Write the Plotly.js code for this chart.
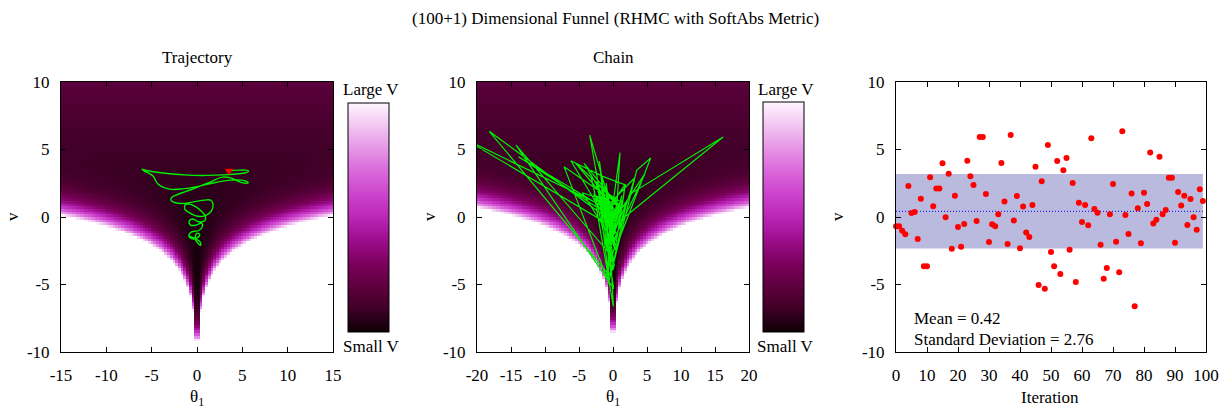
<!DOCTYPE html>
<html>
<head>
<meta charset="utf-8">
<script src="https://cdn.plot.ly/plotly-3.0.1.min.js"></script>
<style>html,body{margin:0;padding:0;background:#fff;}#plot{width:1229px;height:410px;}</style>
</head>
<body>
<div id="plot"></div>
<script>
// ---------------- data ----------------
const mainTitle = "(100+1) Dimensional Funnel (RHMC with SoftAbs Metric)";
const panelTitles = ["Trajectory", "Chain"];
const colorbarLabels = ["Large V", "Small V"];

const yTickVals = [-10, -5, 0, 5, 10];
const yTickText = ["-10", "-5", "0", "5", "10"];
const x1TickVals = [-15, -10, -5, 0, 5, 10, 15];
const x1TickText = ["-15", "-10", "-5", "0", "5", "10", "15"];
const x2TickVals = [-20, -15, -10, -5, 0, 5, 10, 15, 20];
const x2TickText = ["-20", "-15", "-10", "-5", "0", "5", "10", "15", "20"];
const x3TickVals = [0, 10, 20, 30, 40, 50, 60, 70, 80, 90, 100];

// Trajectory (theta1, v)
const trajTheta = [3.53,4.5,5.3,5.68,5.5,4.6,3.0,1.0,-1.0,-3.0,-4.8,-5.8,-6.05,-5.8,-5.2,-4.8,-4.6,-4.3,-3.7,-2.8,-1.6,0.0,1.5,3.0,4.4,5.3,5.65,5.4,4.6,3.8,2.8,1.5,0.0,-1.2,-2.2,-2.7,-2.9,-2.6,-1.8,-0.5,0.8,1.5,1.75,1.7,1.3,0.6,-0.2,-0.9,-1.35,-1.3,-0.8,0.0,0.6,0.95,0.8,0.2,-0.5,-0.85,-0.7,-0.1,0.5,0.6,0.2,-0.6,-0.9,-0.6,0.0,0.3,0.0,-0.2,0.1,0.4,0.35,-0.2,-0.85];
const trajV     = [3.43,3.47,3.47,3.4,3.3,3.2,3.12,3.08,3.1,3.2,3.35,3.48,3.55,3.4,3.2,3.0,2.75,2.45,2.2,2.05,2.08,2.25,2.48,2.68,2.75,2.68,2.55,2.5,2.62,2.88,2.95,2.6,2.2,1.9,1.65,1.5,1.3,1.1,1.0,1.1,1.25,1.25,1.0,0.6,0.25,0.05,0.1,0.35,0.6,0.9,0.95,0.7,0.35,0.0,-0.3,-0.35,-0.15,-0.3,-0.6,-0.6,-0.45,-0.7,-1.0,-1.1,-1.35,-1.6,-1.55,-1.3,-1.2,-1.6,-1.95,-2.1,-1.85,-1.6,-1.4];
const trajStart = [3.53, 3.43];

// Chain samples: v per iteration (right panel), theta1 per iteration (middle panel)
const chainV = [-0.69,-0.69,-1.01,-1.28,2.30,0.30,0.37,-1.63,1.36,-3.65,-3.65,2.94,0.79,2.12,2.12,3.98,-0.02,3.21,-2.35,1.58,
  -0.74,-2.20,-0.52,4.17,3.01,2.37,-0.30,5.93,5.93,1.70,-1.85,-0.54,-0.69,0.20,4.00,1.14,-2.00,6.07,-0.25,1.56,
  -2.32,0.77,-1.14,-1.48,0.89,3.73,-5.04,2.64,-5.31,5.33,-2.59,-3.65,4.15,-4.22,3.46,4.37,-2.42,2.52,-4.81,1.06,
  -0.37,0.89,-0.62,5.83,0.59,0.32,-2.05,-4.57,-3.78,0.20,2.44,-1.83,-4.10,6.35,0.15,-1.26,1.75,-6.62,0.64,-1.95,
  1.80,0.96,4.77,-0.49,-0.20,4.47,0.20,0.52,2.91,2.91,-1.90,1.85,0.86,1.58,-0.59,1.33,-0.02,-0.94,2.05,1.19];
const chainTheta = [0.3,0.3,-0.4,0.2,-2.5,0.6,-0.8,0.1,-1.5,-0.3,-0.3,-3.2,0.9,-1.2,-1.2,-4.25,0.4,4.7,-0.5,1.3,
  -0.2,0.3,-0.6,-6.2,-1.5,1.8,1.0,16.2,16.2,2.5,-0.4,0.5,-0.3,0.8,-5.5,0.6,-0.6,-3.43,0.3,-1.7,
  0.2,-0.9,0.4,-0.2,1.0,-7.2,-0.5,-2.3,0.1,-14.26,-0.7,0.2,-2.0,-0.3,3.48,5.54,0.3,-1.0,-0.6,2.0,
  -0.5,0.8,-0.4,-22,-0.6,1.1,-0.4,-1.0,0.1,-1.2,1.8,0.5,-0.9,-18.2,-1.5,0.3,-2.8,0.05,-0.7,0.2,
  -4.5,0.6,1.03,-0.4,0.5,-13.9,0.3,-1.4,3.2,3.2,0.2,-1.0,0.7,-2.6,0.3,1.5,-0.5,0.2,-1.7,0.9];
const chainMean = 0.42;
const chainStd = 2.76;
const statsText = ["Mean = 0.42", "Standard Deviation = 2.76"];

// ---------------- funnel potential surface ----------------
// V(theta1, v) = theta1^2 / (2 e^v) + v + v^2/18, shown up to a cut-off
const V_MIN = -4.5, V_MAX = 100;
function potential(th, v) { return th * th / (2 * Math.exp(v)) + v + v * v / 18; }
function surface(xmin, xmax, n, ymin, ymax, m) {
  const xs = [], ys = [], z = [];
  for (let i = 0; i < n; i++) xs.push(xmin + (xmax - xmin) * (i + 0.5) / n);
  for (let j = 0; j < m; j++) ys.push(ymin + (ymax - ymin) * (j + 0.5) / m);
  for (let j = 0; j < m; j++) {
    const row = [];
    for (let i = 0; i < n; i++) {
      const val = potential(xs[i], ys[j]);
      row.push(val > V_MAX ? null : val);
    }
    z.push(row);
  }
  return {x: xs, y: ys, z: z};
}
const surf1 = surface(-15, 15, 100, -10, 10, 100);
const surf2 = surface(-20, 20, 100, -10, 10, 100);

const iteration = chainV.map((_, i) => i);

// ---------------- styling ----------------
const W = 1229, H = 410;
const px = x => x / W, py = y => 1 - y / H;
const FONT = '"Liberation Serif", "Times New Roman", Times, serif';
const colorscale = [
  [0.00, '#0e0006'], [0.10, '#3e0026'], [0.20, '#5e003e'], [0.30, '#7c005c'],
  [0.40, '#9c0e8c'], [0.50, '#ba26b6'], [0.60, '#cc44cc'], [0.70, '#da68da'],
  [0.80, '#e696e6'], [0.90, '#f2c6f2'], [1.00, '#fff6ff']
];
function cbar(left, right, top, bottom) {
  return {x: px(left), xanchor: 'left', xpad: 0, y: py(top), yanchor: 'top', ypad: 0,
    len: bottom - top, lenmode: 'pixels', thickness: right - left, thicknessmode: 'pixels',
    outlinewidth: 1, outlinecolor: '#000', showticklabels: false, ticks: '', borderwidth: 0};
}

const traces = [
  {type: 'heatmap', x: surf1.x, y: surf1.y, z: surf1.z, zmin: V_MIN, zmax: V_MAX, colorscale: colorscale,
   xaxis: 'x', yaxis: 'y', hoverinfo: 'skip', colorbar: cbar(348, 389, 103, 332)},
  {type: 'scatter', mode: 'lines', x: trajTheta, y: trajV, xaxis: 'x', yaxis: 'y',
   line: {color: '#00ee00', width: 1.4, shape: 'spline', smoothing: 1.1}, hoverinfo: 'skip'},
  {type: 'scatter', mode: 'markers', x: [trajStart[0]], y: [trajStart[1]], xaxis: 'x', yaxis: 'y',
   marker: {symbol: 'triangle-down', size: 8, color: '#ff0000'}, hoverinfo: 'skip'},
  {type: 'heatmap', x: surf2.x, y: surf2.y, z: surf2.z, zmin: V_MIN, zmax: V_MAX, colorscale: colorscale,
   xaxis: 'x2', yaxis: 'y2', hoverinfo: 'skip', colorbar: cbar(763, 804, 102, 332)},
  {type: 'scatter', mode: 'lines', x: chainTheta, y: chainV, xaxis: 'x2', yaxis: 'y2',
   line: {color: '#00f000', width: 1.2}, hoverinfo: 'skip'},
  {type: 'scatter', mode: 'lines', x: [0, iteration.length - 1], y: [chainMean, chainMean], xaxis: 'x3', yaxis: 'y3',
   line: {color: '#0000ff', width: 1, dash: '1px,2px'}, hoverinfo: 'skip'},
  {type: 'scatter', mode: 'markers', x: iteration, y: chainV, xaxis: 'x3', yaxis: 'y3',
   marker: {size: 6, color: '#ff0000'}, hoverinfo: 'skip', cliponaxis: false}
];

const axisBase = {showline: true, linecolor: '#000', linewidth: 1, mirror: 'ticks', ticks: 'inside',
  ticklen: 5, tickwidth: 1, tickcolor: '#000', showgrid: false, zeroline: false, fixedrange: true,
  tickfont: {family: FONT, size: 17, color: '#000'}};
const yTop = py(82), yBot = py(352);

const layout = {
  width: W, height: H, margin: {l: 0, r: 0, t: 0, b: 0}, paper_bgcolor: '#fff', plot_bgcolor: '#fff',
  showlegend: false, font: {family: FONT, size: 17, color: '#000'},
  xaxis: Object.assign({}, axisBase, {domain: [px(61), px(333)], range: [-15, 15], anchor: 'y',
    tickmode: 'array', tickvals: x1TickVals, ticktext: x1TickText, ticklabelstandoff: 8}),
  yaxis: Object.assign({}, axisBase, {domain: [yBot, yTop], range: [-10, 10], anchor: 'x',
    tickmode: 'array', tickvals: yTickVals, ticktext: yTickText, ticklabelstandoff: 7}),
  xaxis2: Object.assign({}, axisBase, {domain: [px(477), px(749)], range: [-20, 20], anchor: 'y2',
    tickmode: 'array', tickvals: x2TickVals, ticktext: x2TickText, ticklabelstandoff: 8}),
  yaxis2: Object.assign({}, axisBase, {domain: [yBot, yTop], range: [-10, 10], anchor: 'x2',
    tickmode: 'array', tickvals: yTickVals, ticktext: yTickText, ticklabelstandoff: 7}),
  xaxis3: Object.assign({}, axisBase, {domain: [px(896), px(1206)], range: [0, 100], anchor: 'y3',
    tickmode: 'array', tickvals: x3TickVals, ticklabelstandoff: 8}),
  yaxis3: Object.assign({}, axisBase, {domain: [yBot, yTop], range: [-10, 10], anchor: 'x3',
    tickmode: 'array', tickvals: yTickVals, ticktext: yTickText, ticklabelstandoff: 7}),
  shapes: [
    {type: 'rect', xref: 'x3', yref: 'y3', x0: 0, x1: iteration.length - 1,
     y0: chainMean - chainStd, y1: chainMean + chainStd, fillcolor: '#babade', line: {width: 0}, layer: 'below'}
  ],
  annotations: []
};

function ann(text, x, y, extra) {
  return Object.assign({text: text, x: px(x), y: py(y), xref: 'paper', yref: 'paper', showarrow: false,
    xanchor: 'center', yanchor: 'middle', font: {family: FONT, size: 17, color: '#000'}}, extra || {});
}
layout.annotations.push(ann(mainTitle, 615, 18));
layout.annotations.push(ann(panelTitles[0], 197, 57));
layout.annotations.push(ann(panelTitles[1], 613, 57));
layout.annotations.push(ann(colorbarLabels[0], 371, 90));
layout.annotations.push(ann(colorbarLabels[1], 371, 346));
layout.annotations.push(ann(colorbarLabels[0], 786, 90));
layout.annotations.push(ann(colorbarLabels[1], 786, 346));
layout.annotations.push(ann('θ<sub>1</sub>', 197, 398));
layout.annotations.push(ann('θ<sub>1</sub>', 613, 398));
layout.annotations.push(ann('Iteration', 1050, 397));
layout.annotations.push(ann('v', 12, 217, {textangle: -90}));
layout.annotations.push(ann('v', 429, 217, {textangle: -90}));
layout.annotations.push(ann('v', 837, 217, {textangle: -90}));
layout.annotations.push(ann(statsText[0], 912, 318, {xanchor: 'left'}));
layout.annotations.push(ann(statsText[1], 912, 339, {xanchor: 'left'}));

Plotly.newPlot('plot', traces, layout, {staticPlot: true, displayModeBar: false});
</script>
</body>
</html>
